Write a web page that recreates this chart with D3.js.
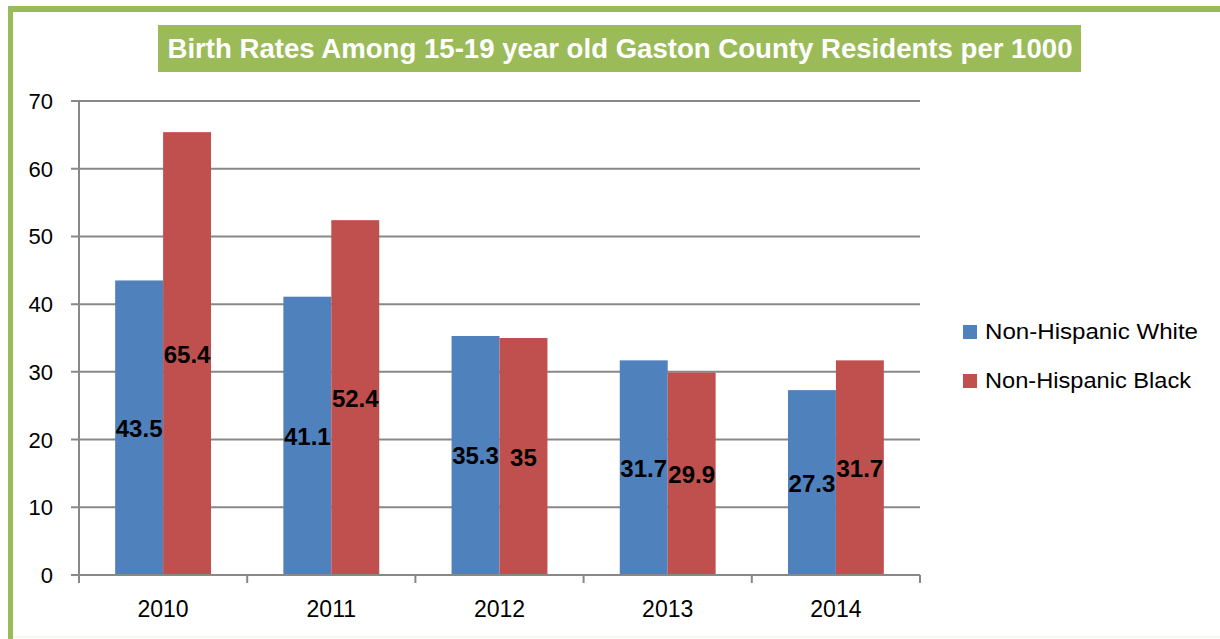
<!DOCTYPE html>
<html><head><meta charset="utf-8">
<script src="https://cdn.jsdelivr.net/npm/d3@7"></script>
<style>body{margin:0;background:#fff}svg{display:block}</style>
</head><body>
<svg id="c" width="1220" height="639"></svg>
<script>
const categories = ["2010","2011","2012","2013","2014"];
const seriesNames = ["Non-Hispanic White","Non-Hispanic Black"];
const white = [43.5, 41.1, 35.3, 31.7, 27.3];
const black = [65.4, 52.4, 35, 29.9, 31.7];
const yTicks = [0,10,20,30,40,50,60,70];
const colors = ["#4F81BD","#C0504D"];
const title = "Birth Rates Among 15-19 year old Gaston County Residents per 1000";
const FONT = "'Liberation Sans', Arial, sans-serif";

(function(){
const svg = d3.select("#c");
const fitWidth = (sel, target) => {
  sel.attr("textLength", target).attr("lengthAdjust","spacingAndGlyphs");
};

// frame
svg.append("rect").attr("x",8).attr("y",6).attr("width",1212).attr("height",6).attr("fill","#9BBB59");
svg.append("rect").attr("x",8).attr("y",6).attr("width",5).attr("height",633).attr("fill","#9BBB59");
svg.append("rect").attr("x",13).attr("y",636).attr("width",1207).attr("height",2).attr("fill","#F4F7EC");

// title
svg.append("rect").attr("x",158).attr("y",25).attr("width",923).attr("height",47).attr("fill","#9BBB59");
const t = svg.append("text").attr("x",620).attr("y",58).attr("text-anchor","middle")
  .attr("fill","#fff").attr("font-weight","bold")
  .attr("font-family",FONT).attr("font-size",27).text(title);
fitWidth(t, 905);

const pL=79, pR=920, pT=101, pB=575;
const x = d3.scaleBand().domain(categories).range([pL,pR]).paddingInner(0.43).paddingOuter(0.215);
const xs = d3.scaleBand().domain([0,1]).range([0,x.bandwidth()]);
const y = d3.scaleLinear().domain([0,70]).range([pB,pT]);
const xCat = d3.scaleBand().domain(categories).range([pL,pR]);

// gridlines
svg.append("g").selectAll("line").data(yTicks).join("line")
  .attr("x1",pL-8).attr("x2",pR).attr("y1",d=>y(d)).attr("y2",d=>y(d))
  .attr("stroke","#888").attr("stroke-width",2);

// bars
const series = [white, black];
const g = svg.append("g");
series.forEach((vals,si)=>{
  g.selectAll(null).data(vals).join("rect")
    .attr("x",(d,i)=>x(categories[i])+xs(si)).attr("width",xs.bandwidth())
    .attr("y",d=>y(d)).attr("height",d=>pB-y(d)).attr("fill",colors[si]);
});

// y axis
svg.append("line").attr("x1",pL).attr("x2",pL).attr("y1",pT).attr("y2",pB+8).attr("stroke","#888").attr("stroke-width",2);
svg.append("g").selectAll("text").data(yTicks).join("text")
  .attr("x",53).attr("y",d=>y(d)+8).attr("text-anchor","end")
  .attr("font-family",FONT).attr("font-size",22).attr("fill","#000").text(d=>d);

// x axis
svg.append("line").attr("x1",pL).attr("x2",pR).attr("y1",pB).attr("y2",pB).attr("stroke","#888").attr("stroke-width",2);
const bounds = categories.map(c=>xCat(c)).concat([pR]);
svg.append("g").selectAll("line").data(bounds).join("line")
  .attr("x1",d=>d).attr("x2",d=>d).attr("y1",pB).attr("y2",pB+8).attr("stroke","#888").attr("stroke-width",2);
svg.append("g").selectAll("text").data(categories).join("text")
  .attr("x",d=>xCat(d)+xCat.bandwidth()/2).attr("y",617).attr("text-anchor","middle")
  .attr("font-family",FONT).attr("font-size",23).attr("fill","#000").text(d=>d);

// data labels
series.forEach((vals,si)=>{
  g.selectAll(null).data(vals).join("text")
    .attr("x",(d,i)=>x(categories[i])+xs(si)+xs.bandwidth()/2)
    .attr("y",d=>(y(d)+pB)/2+9).attr("text-anchor","middle")
    .attr("font-family",FONT).attr("font-weight","bold").attr("font-size",24).attr("fill","#000").text(d=>d);
});

// legend
const lg = svg.append("g");
seriesNames.forEach((n,i)=>{
  const base = 339 + i*49;
  lg.append("rect").attr("x",963).attr("y",base-14).attr("width",14).attr("height",14).attr("fill",colors[i]);
  const tx = lg.append("text").attr("x",985).attr("y",base)
    .attr("font-family",FONT).attr("font-size",22).attr("fill","#000").text(n);
  fitWidth(tx, i===0 ? 213 : 206);
});
})();
</script>
</body></html>
